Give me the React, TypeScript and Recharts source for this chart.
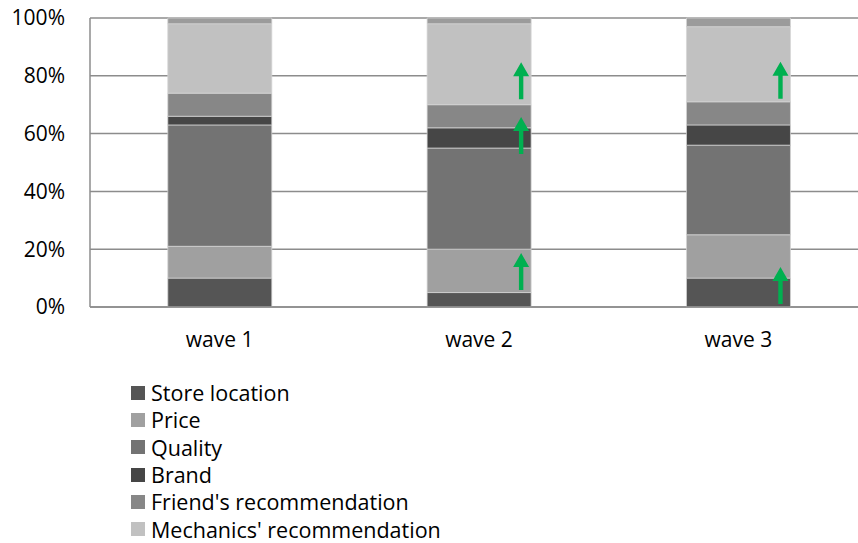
import React from 'react';
import { BarChart, Bar, XAxis, YAxis, CartesianGrid, LabelList } from 'recharts';

const waves = ['wave 1', 'wave 2', 'wave 3'];

const storeLocation = [10, 5, 10];
const price = [11, 15, 15];
const quality = [42, 35, 31];
const brand = [3, 7, 7];
const friendsRec = [8, 8, 8];
const mechanicsRec = [24, 28, 26];
const other = [2, 2, 3];

const yTicks = [0, 20, 40, 60, 80, 100];

const SERIES = [
  { key: 'store', name: 'Store location', values: storeLocation, color: '#555555', legend: true },
  { key: 'price', name: 'Price', values: price, color: '#a0a0a0', legend: true },
  { key: 'quality', name: 'Quality', values: quality, color: '#737373', legend: true },
  { key: 'brand', name: 'Brand', values: brand, color: '#464646', legend: true },
  { key: 'friend', name: "Friend's recommendation", values: friendsRec, color: '#878787', legend: true },
  { key: 'mechanics', name: "Mechanics' recommendation", values: mechanicsRec, color: '#c1c1c1', legend: true },
  { key: 'other', name: 'Other', values: other, color: '#9b9b9b', legend: false },
];

// green "up" markers: which segment, and how far above its bottom edge the arrow starts (px)
const arrows = [
  { wave: 1, series: 'price', lift: 2.5 },
  { wave: 1, series: 'brand', lift: -6 },
  { wave: 1, series: 'mechanics', lift: 5.5 },
  { wave: 2, series: 'store', lift: 3 },
  { wave: 2, series: 'mechanics', lift: 3 },
];

const data = waves.map((w, i) => {
  const row: any = { name: w };
  SERIES.forEach(s => { row[s.key] = s.values[i]; });
  return row;
});

const FONT = '"Open Sans", sans-serif';
const FS = 21;
const GREEN = '#00b050';

const arrowFor = (seriesKey: string) => (props: any) => {
  const { x, y, width, height, index } = props;
  const a = arrows.find(r => r.series === seriesKey && r.wave === index);
  if (!a) return null;
  const cx = Number(x) + Number(width) - 10;
  const bottom = Number(y) + Number(height) - a.lift;
  const len = 37;
  const head = 14;
  const top = bottom - len;
  const d = `M${cx - 2.2},${bottom} L${cx - 2.2},${top + head} L${cx - 8},${top + head} L${cx},${top} L${cx + 8},${top + head} L${cx + 2.2},${top + head} L${cx + 2.2},${bottom} Z`;
  return <path d={d} fill={GREEN} />;
};

const App = () => {
  return (
    <div style={{ position: 'absolute', left: 0, top: 0, width: 858, height: 543, overflow: 'hidden', background: '#fff', fontFamily: FONT }}>
      <BarChart
        width={880}
        height={543}
        data={data}
        margin={{ top: 18, right: 12, left: 0, bottom: 176 }}
        barCategoryGap="30%"
      >
        <CartesianGrid vertical={false} stroke="#8c8c8c" strokeWidth={1.5} />
        <XAxis
          dataKey="name"
          height={60}
          tickSize={0}
          tickMargin={25}
          axisLine={{ stroke: '#8c8c8c', strokeWidth: 1.5 }}
          tick={{ fill: '#000', fontSize: FS, fontFamily: FONT }}
        />
        <YAxis
          width={90}
          domain={[0, 100]}
          ticks={yTicks}
          tickFormatter={(v: number) => `${v}%`}
          tickSize={0}
          tickMargin={25}
          axisLine={{ stroke: '#8c8c8c', strokeWidth: 1.5 }}
          tick={{ fill: '#000', fontSize: FS, fontFamily: FONT }}
        />
        {SERIES.map(s => (
          <Bar
            key={s.key}
            dataKey={s.key}
            name={s.name}
            stackId="a"
            fill={s.color}
            stroke="#d4d4d4"
            strokeWidth={0.75}
            isAnimationActive={false}
          >
            {arrows.some(a => a.series === s.key) && <LabelList dataKey={s.key} content={arrowFor(s.key)} />}
          </Bar>
        ))}
      </BarChart>
      <div style={{ position: 'absolute', left: 131, top: 379 }}>
        {SERIES.filter(s => s.legend).map(s => (
          <div key={s.key} style={{ display: 'flex', alignItems: 'center', height: 27.3, lineHeight: '27px', fontSize: 21.5, color: '#000', whiteSpace: 'nowrap' }}>
            <span style={{ display: 'inline-block', width: 14, height: 14, background: s.color, marginRight: 6 }} />
            <span>{s.name}</span>
          </div>
        ))}
      </div>
    </div>
  );
};

export default App;
